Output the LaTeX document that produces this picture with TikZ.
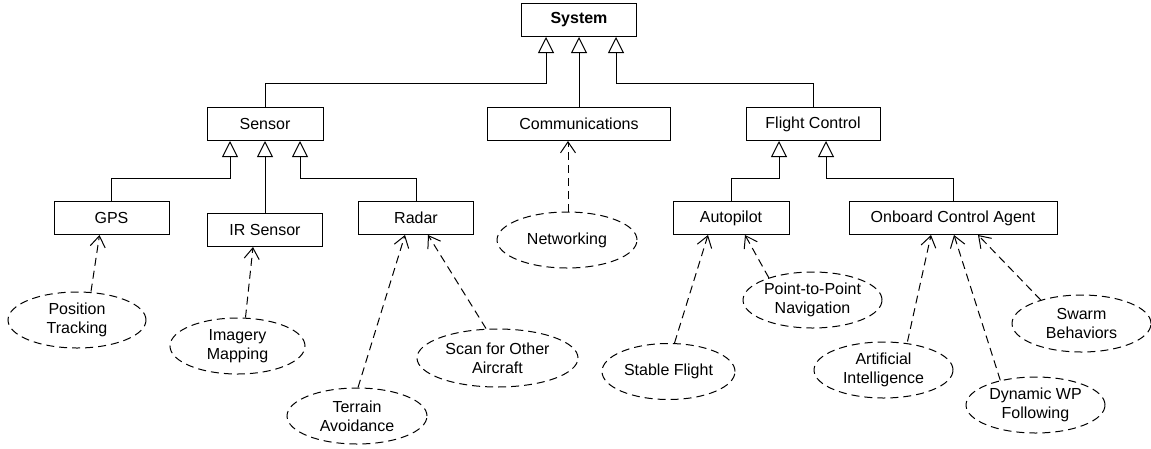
\documentclass[tikz,border=0pt]{standalone}
\usepackage{fontspec}
\setmainfont{Liberation Sans}
\usetikzlibrary{arrows.meta,shapes.geometric}

\begin{document}
\begin{tikzpicture}[
  x=1pt, y=-1pt,
  every node/.style={font=\fontsize{16}{19}\selectfont},
  box/.style={draw, rectangle, line width=1pt, minimum height=33pt, inner sep=0pt},
  usecase/.style={draw, ellipse, line width=1pt, dash pattern=on 8pt off 5pt,
    minimum width=138pt, minimum height=56pt, inner sep=0pt, align=center},
  gen/.style={draw, line width=1pt, -{Triangle[open, length=16pt, width=16pt]}},
  dep/.style={draw, line width=1pt, dash pattern=on 8pt off 5pt,
    -{Straight Barb[length=11pt, width=15pt]}}
]
\useasboundingbox (0,0) rectangle (1151,448);

% classes
\node[box, minimum width=115pt, font=\fontsize{16}{19}\selectfont\bfseries] (system) at (579,20) {System};
\node[box, minimum width=116pt] (sensor) at (265,124) {Sensor};
\node[box, minimum width=183pt] (comms) at (579,124) {Communications};
\node[box, minimum width=134pt] (flight) at (813,124) {Flight Control};
\node[box, minimum width=115pt] (gps) at (111.5,218) {GPS};
\node[box, minimum width=115pt] (irsensor) at (265,230) {IR Sensor};
\node[box, minimum width=115pt] (radar) at (416,218) {Radar};
\node[box, minimum width=116pt] (autopilot) at (731,218) {Autopilot};
\node[box, minimum width=208pt] (agent) at (953,218) {Onboard Control Agent};

% behaviours
\node[usecase] (tracking) at (77,320) {Position\\Tracking};
\node[usecase, minimum width=135pt] (imagery) at (237.5,346) {Imagery\\Mapping};
\node[usecase, minimum width=140pt] (terrain) at (357,416) {Terrain\\Avoidance};
\node[usecase, minimum width=161pt, minimum height=58pt] (scan) at (497.5,358) {Scan for Other\\Aircraft};
\node[usecase, minimum width=140pt] (networking) at (567,240) {Networking};
\node[usecase, minimum width=133pt] (stable) at (668.5,371.5) {Stable Flight};
\node[usecase, minimum width=139pt] (p2p) at (812.5,300) {Point-to-Point\\Navigation};
\node[usecase, minimum width=139pt] (ai) at (883.5,370) {Artificial\\Intelligence};
\node[usecase, minimum width=139pt] (dynwp) at (1035.5,405) {Dynamic WP\\Following};
\node[usecase, minimum width=139pt, minimum height=57pt] (swarm) at (1081.5,323.5) {Swarm\\Behaviors};

\coordinate (upper) at (0,83);
\coordinate (lower) at (0,178);

% generalisation
\draw[gen] (sensor.north) -- (sensor.north |- upper) -| ([xshift=-33pt]system.south);
\draw[gen] (comms.north) -- (system.south);
\draw[gen] (flight.north) -- (flight.north |- upper) -| ([xshift=37pt]system.south);
\draw[gen] (gps.north) -- (gps.north |- lower) -| ([xshift=-35pt]sensor.south);
\draw[gen] (irsensor.north) -- (sensor.south);
\draw[gen] (radar.north) -- (radar.north |- lower) -| ([xshift=35pt]sensor.south);
\draw[gen] (autopilot.north) -- (autopilot.north |- lower) -| ([xshift=-34pt]flight.south);
\draw[gen] (agent.north) -- (agent.north |- lower) -| ([xshift=13pt]flight.south);

% dependencies
\draw[dep] ([xshift=14pt]tracking.north) -- ([xshift=-12pt]gps.south);
\draw[dep] ([xshift=8pt]imagery.north) -- ([xshift=-12pt]irsensor.south);
\draw[dep] ([xshift=1pt]terrain.north) -- ([xshift=-11pt]radar.south);
\draw[dep] ([xshift=-11.5pt]scan.north) -- ([xshift=12pt]radar.south);
\draw[dep] ([xshift=1pt]networking.north) -- ([xshift=-11pt]comms.south);
\draw[dep] ([xshift=6pt]stable.north) -- ([xshift=-23pt]autopilot.south);
\draw[dep] (p2p.153) -- ([xshift=14pt]autopilot.south);
\draw[dep] ([xshift=24pt]ai.north) -- ([xshift=-22pt]agent.south);
\draw[dep] (dynwp.145) -- ([xshift=1pt]agent.south);
\draw[dep] (swarm.150) -- ([xshift=25pt]agent.south);
\end{tikzpicture}
\end{document}
